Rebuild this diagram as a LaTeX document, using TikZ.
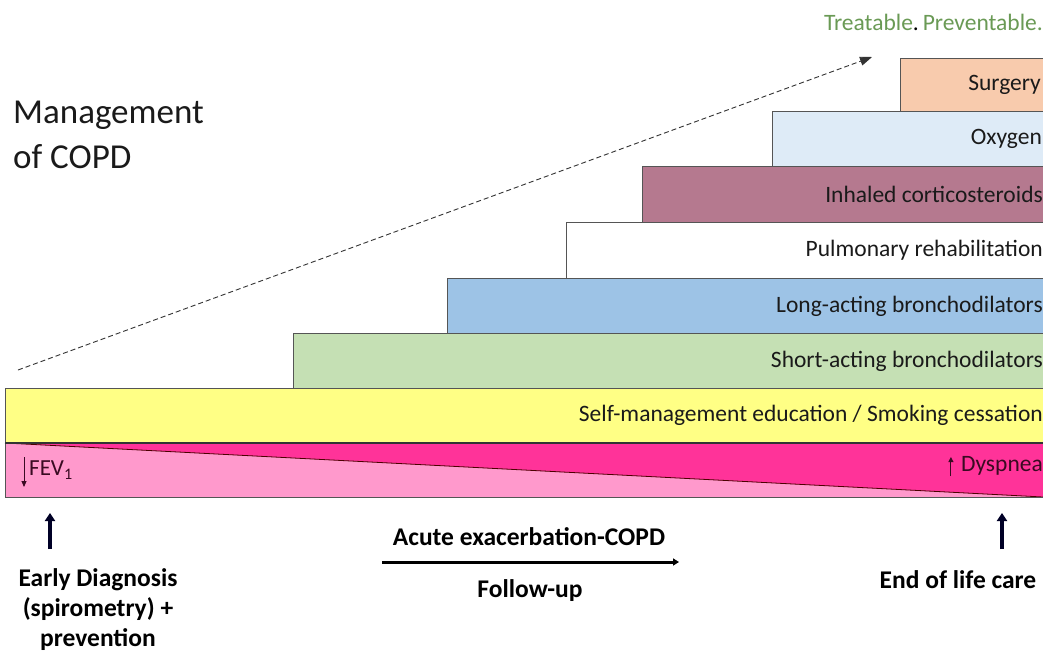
\documentclass[tikz,border=0pt]{standalone}
\usepackage{fontspec}
\setmainfont{Carlito}
\usetikzlibrary{arrows.meta}
\definecolor{surg}{HTML}{F8CBAD}
\definecolor{oxy}{HTML}{DEEBF7}
\definecolor{ics}{HTML}{B5798F}
\definecolor{laba}{HTML}{9DC3E6}
\definecolor{saba}{HTML}{C5E0B4}
\definecolor{selfm}{HTML}{FFFF85}
\definecolor{pinkl}{HTML}{FF99CC}
\definecolor{pinkd}{HTML}{FF3399}
\definecolor{tgreen}{HTML}{6A9A55}
\definecolor{edge}{HTML}{555555}
\definecolor{txt}{HTML}{1A1A1A}
\definecolor{bandtxt}{HTML}{3A0A22}
\tikzset{
  bar/.style={draw=edge, line width=0.8pt},
  bartext/.style={anchor=east, text=txt, font=\fontsize{23.5}{26}\selectfont, inner sep=0pt},
  bottomtext/.style={font=\bfseries\fontsize{25.5}{30}\selectfont, text=black, align=center, inner sep=0pt},
  uparrow/.style={line width=4.5pt, -{Triangle[length=8pt,width=10pt]}, draw=black!85!blue},
  thinarrow/.style={line width=1pt, draw=bandtxt, -{Triangle[length=6pt,width=5pt]}},
}
\begin{document}
\begin{tikzpicture}[x=1pt,y=-1pt]
\useasboundingbox (0,0) rectangle (1043,653);
\clip (0,0) rectangle (1043,653);
\fill[white] (0,0) rectangle (1043,653);
% bars
\path[bar, fill=surg] (900,58) rectangle (1060,111);
\path[bar, fill=oxy] (772,111) rectangle (1060,166);
\path[bar, fill=ics] (642,166) rectangle (1060,222);
\path[bar, fill=white] (566,222) rectangle (1060,278);
\path[bar, fill=laba] (447,278) rectangle (1060,333);
\path[bar, fill=saba] (293,333) rectangle (1060,388);
\path[bar, fill=selfm] (5,388) rectangle (1060,443);
% pink band
\fill[pinkl] (5,443) rectangle (1060,497);
\fill[pinkd] (5,443) -- (1060,443) -- (1060,498) -- cycle;
\draw[black!70!red, line width=0.8pt] (5,443) -- (1043,497);
\draw[edge, line width=0.8pt] (1060,497) -- (5,497) -- (5,443) -- (1060,443);
\draw[black!80, line width=1.2pt] (5,443) -- (1060,443);
% bar texts
\node[bartext] (surgery) at (1041,84.5) {Surgery};
\node[bartext] (oxygen) at (1042,139) {Oxygen};
\node[bartext] (ics) at (1043,194) {Inhaled corticosteroids};
\node[bartext] (pr) at (1043,250) {Pulmonary rehabilitation};
\node[bartext] (laba) at (1043,306) {Long-acting bronchodilators};
\node[bartext] (saba) at (1043,361) {Short-acting bronchodilators};
\node[bartext] (selfm) at (1043,415.5) {Self-management education / Smoking cessation};
% FEV1
\coordinate (fevtop) at (24,457);
\coordinate (fevbot) at (24,487);
\draw[thinarrow] (fevtop) -- (fevbot);
\node[anchor=west, text=bandtxt, font=\fontsize{23}{26}\selectfont, inner sep=0pt] (fev) at (29,470) {FEV\textsubscript{1}};
% Dyspnea
\node[anchor=east, text=bandtxt, font=\fontsize{23.5}{26}\selectfont, inner sep=0pt] (dysp) at (1043,466) {Dyspnea};
\coordinate (dybot) at ([xshift=-10pt,yshift=-10pt]dysp.west);
\coordinate (dytop) at ([xshift=-10pt,yshift=9pt]dysp.west);
\draw[line width=1pt, draw=bandtxt, -{Triangle[length=5pt,width=5pt]}] (dybot) -- (dytop);
% title
\node[anchor=base west, align=left, font=\fontsize{35}{45}\selectfont, text=txt, inner sep=0pt] (title) at (13,168) {Management\\of COPD};
\node[anchor=east, font=\fontsize{23.5}{26}\selectfont, inner sep=0pt] (tp) at (1043,22) {\textcolor{tgreen}{Treatable}\textcolor{black}{.}\,\textcolor{tgreen}{Preventable.}};
% dashed arrow
\coordinate (ds) at (18,370);
\coordinate (de) at (872,57);
\draw[line width=0.9pt, dash pattern=on 5pt off 3pt, black!80, -{Triangle[length=12pt,width=9pt]}] (ds) -- (de);
% bottom
\node[bottomtext] (early) at (98,610) {Early Diagnosis\\(spirometry) +\\prevention};
\coordinate (ea) at (50,549);
\coordinate (eb) at (50,513);
\draw[uparrow] (ea) -- (eb);
\node[bottomtext] (acute) at (529,537) {Acute exacerbation-COPD};
\node[bottomtext] (follow) at (530,591) {Follow-up};
\coordinate (fa) at (382,562);
\coordinate (fb) at (679,562);
\draw[line width=3pt, -{Triangle[length=6pt,width=7pt]}] (fa) -- (fb);
\node[bottomtext] (eol) at (958,580) {End of life care};
\coordinate (xa) at (1002,549);
\coordinate (xb) at (1002,513);
\draw[uparrow] (xa) -- (xb);
\end{tikzpicture}
\end{document}
